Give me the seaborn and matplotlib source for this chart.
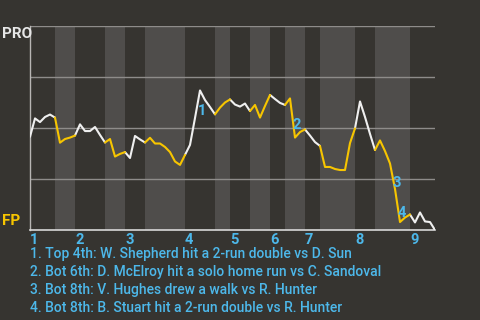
import numpy as np
import pandas as pd
import matplotlib
matplotlib.use("Agg")
import matplotlib.pyplot as plt
import seaborn as sns

# ---- data ----
pro_win_pct = [45.7, 54.7, 52.9, 55.4, 56.6, 55.1, 42.8, 44.6, 45.3, 46.3,
               51.8, 48.5, 48.5, 50.5, 46.6, 42.9, 44.6, 36.0, 37.3, 38.2,
               35.3, 46.1, 44.4, 42.9, 45.2, 42.4, 42.4, 40.7, 38.2, 33.6,
               31.9, 36.8, 41.7, 54.9, 68.4, 63.7, 60.3, 56.7, 60.0, 62.5,
               64.0, 61.5, 60.5, 62.0, 58.3, 61.3, 55.1, 60.8, 66.2, 64.2,
               62.3, 61.3, 64.5, 45.3, 48.0, 49.3, 46.3, 43.1, 41.2, 30.9,
               30.9, 29.9, 29.4, 29.4, 42.6, 49.8, 63.0, 55.4, 47.1, 39.2,
               43.9, 38.7, 32.6, 20.1, 3.9, 6.1, 7.6, 3.7, 8.6, 4.2,
               3.9, 0.0]
half_inning_bounds = [0, 5, 9, 15, 19, 23, 31, 37, 40, 44, 48, 51, 55, 58, 65, 69, 76, 81]
inning_labels = ["1", "2", "3", "4", "5", "6", "7", "8", "9"]
event_pa = [34, 53, 73, 74]
event_texts = [
    "1. Top 4th: W. Shepherd hit a 2-run double vs D. Sun",
    "2. Bot 6th: D. McElroy hit a solo home run vs C. Sandoval",
    "3. Bot 8th: V. Hughes drew a walk vs R. Hunter",
    "4. Bot 8th: B. Stuart hit a 2-run double vs R. Hunter",
]
team_top = "PRO"
team_bottom = "FP"

# ---- styling ----
BG = "#363430"
BAND = "#4f4d4b"
WHITE = "#efefef"
YELLOW = "#f7c500"
BLUE = "#4db8ea"
GRID = "#8e8c8a"

sns.set_theme(style="dark")
plt.rcParams["font.family"] = ["Roboto", "DejaVu Sans"]

# build run table (one polyline per half inning)
rows = []
for h in range(len(half_inning_bounds) - 1):
    a, b = half_inning_bounds[h], half_inning_bounds[h + 1]
    side = "top" if h % 2 == 0 else "bot"
    for i in range(a, b + 1):
        rows.append({"pa": i, "pct": pro_win_pct[i], "half": h, "side": side})
df = pd.DataFrame(rows)

fig = plt.figure(figsize=(4.8, 3.2), dpi=100, facecolor=BG)
ax = fig.add_axes([30 / 480, 1 - 230 / 320, 405 / 480, 204 / 320])
ax.set_facecolor(BG)

# half-inning bands
for h in range(len(half_inning_bounds) - 1):
    if h % 2 == 1:
        ax.axvspan(half_inning_bounds[h], half_inning_bounds[h + 1],
                   color=BAND, lw=0, zorder=0)

for yv in [25, 50, 75, 100]:
    ax.axhline(yv, color=GRID, lw=1.0, zorder=1)

sns.lineplot(data=df, x="pa", y="pct", hue="side", units="half",
             estimator=None, palette={"top": WHITE, "bot": YELLOW},
             lw=1.5, legend=False, ax=ax, zorder=3, sort=False)

ax.set_xlim(0, 81)
ax.set_ylim(0, 100)
ax.set_xticks([])
ax.set_yticks([])
ax.set_xlabel("")
ax.set_ylabel("")
ax.grid(False)
for s in ["top", "right"]:
    ax.spines[s].set_visible(False)
ax.spines["left"].set_color("#b8b6b4")
ax.spines["left"].set_linewidth(1.0)
ax.spines["bottom"].set_color("#d8d8d8")
ax.spines["bottom"].set_linewidth(1.2)

# event markers
for n, e in enumerate(event_pa):
    mx = e - 0.5
    my = (pro_win_pct[e - 1] + pro_win_pct[e]) / 2
    ax.text(mx, my, str(n + 1), color=BLUE, fontsize=10.5, fontweight="bold",
            ha="left", va="top", zorder=4)

# inning labels
inning_starts = half_inning_bounds[0::2][:len(inning_labels)]
for lab, st in zip(inning_labels, inning_starts):
    ax.text(st, -1.5, lab, color=BLUE, fontsize=10.5, fontweight="bold",
            ha="left", va="top", clip_on=False)

# team labels
fig.text(2 / 480, 1 - 27 / 320, team_top, color="#e6e6e6", fontsize=11,
         fontweight="bold", ha="left", va="top")
fig.text(2 / 480, 1 - 228 / 320, team_bottom, color=YELLOW, fontsize=11,
         fontweight="bold", ha="left", va="bottom")

# event list
for k, t in enumerate(event_texts):
    fig.text(30 / 480, 1 - (254 + k * 18) / 320, t, color=BLUE, fontsize=10,
             fontweight="medium", ha="left", va="center")

fig.savefig("out.png", dpi=100, facecolor=BG)
